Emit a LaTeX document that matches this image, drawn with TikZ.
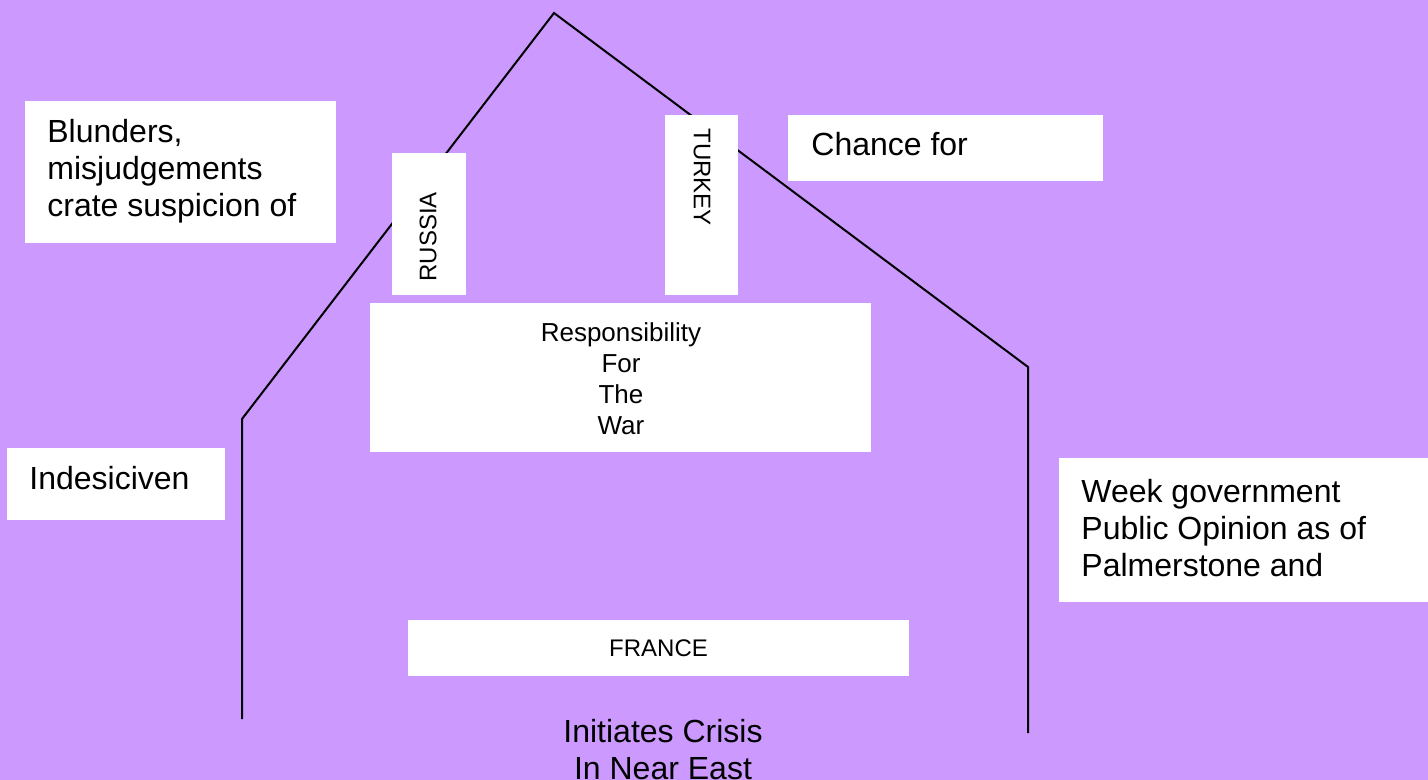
\documentclass[tikz,border=0pt]{standalone}
\usepackage{fontspec}
\setmainfont{Liberation Sans}
\usepackage{tikz}
\usepackage{xcolor}
\definecolor{SlideLilac}{HTML}{CC99FF}
\definecolor{SlideWhite}{HTML}{FFFFFF}
\definecolor{SlideBlack}{HTML}{000000}
\tikzset{
    % White box, no border
    basebox/.style={
        fill=SlideWhite,
        draw=none,
        inner sep=0pt
    },
    % Large text
    bigtext/.style={
        font=\fontsize{16}{18.5}\selectfont,
        text=SlideBlack,
        inner sep=0pt,
        align=left
    },
    % Small text
    smalltext/.style={
        font=\fontsize{12}{15.5}\selectfont,
        text=SlideBlack,
        inner sep=0pt
    },
    % House outline
    houseline/.style={
        line width=1pt,
        draw=SlideBlack
    }
}

\begin{document}
\begin{tikzpicture}[x=0.5pt, y=-0.5pt]
        % Background
        \clip (0,0) rectangle (1428,780);
        \fill[SlideLilac] (0,0) rectangle (1428,780);

        % House outline
        \coordinate (lfoot) at (242,719);
        \coordinate (leave) at (242,419);
        \coordinate (apex) at (554,13);
        \coordinate (reave) at (1028,367);
        \coordinate (rfoot) at (1028,733);
        \draw[houseline] (lfoot) -- (leave) -- (apex) -- (reave) -- (rfoot);

        % Boxes
        \node[basebox, minimum width=155.5pt, minimum height=71pt] (blunders) at (180.5,172) {};
        \node[basebox, minimum width=109pt, minimum height=36pt] (indecisive) at (116,484) {};
        \node[basebox, minimum width=37pt, minimum height=71pt] (russia) at (429,224) {};
        \node[basebox, minimum width=36.5pt, minimum height=90pt] (turkey) at (701.5,205) {};
        \node[basebox, minimum width=157.5pt, minimum height=33pt] (chance) at (945.5,148) {};
        \node[basebox, minimum width=250.5pt, minimum height=74.5pt] (resp) at (620.5,377.5) {};
        \node[basebox, minimum width=190.5pt, minimum height=72pt] (week) at (1249.5,530) {};
        \node[basebox, smalltext, minimum width=250.5pt, minimum height=28pt] (france) at (658.5,648) {FRANCE};

        % Texts
        \node[bigtext, anchor=north west] (blunderstext) at (47,119) {Blunders,\\misjudgements\\crate suspicion of};
        \node[bigtext, anchor=base west] (indecisivetext) at (29,489) {Indesiciven};
        \node[smalltext, rotate=90, anchor=west] (russiatext) at (428,282) {RUSSIA};
        \node[smalltext, rotate=-90, anchor=west] (turkeytext) at (702,128) {TURKEY};
        \node[bigtext, anchor=base west] (chancetext) at (811,156) {Chance for};
        \node[smalltext, font=\fontsize{13}{15.5}\selectfont, align=center, anchor=north] (resptext) at (621,322) {Responsibility\\For\\The\\War};
        \node[bigtext, anchor=north west] (weektext) at (1081,479) {Week government\\Public Opinion as of\\Palmerstone and};
        \node[bigtext, align=center, anchor=north] (crisis) at (663,719) {Initiates Crisis\\In Near East};
    \end{tikzpicture}
\end{document}
